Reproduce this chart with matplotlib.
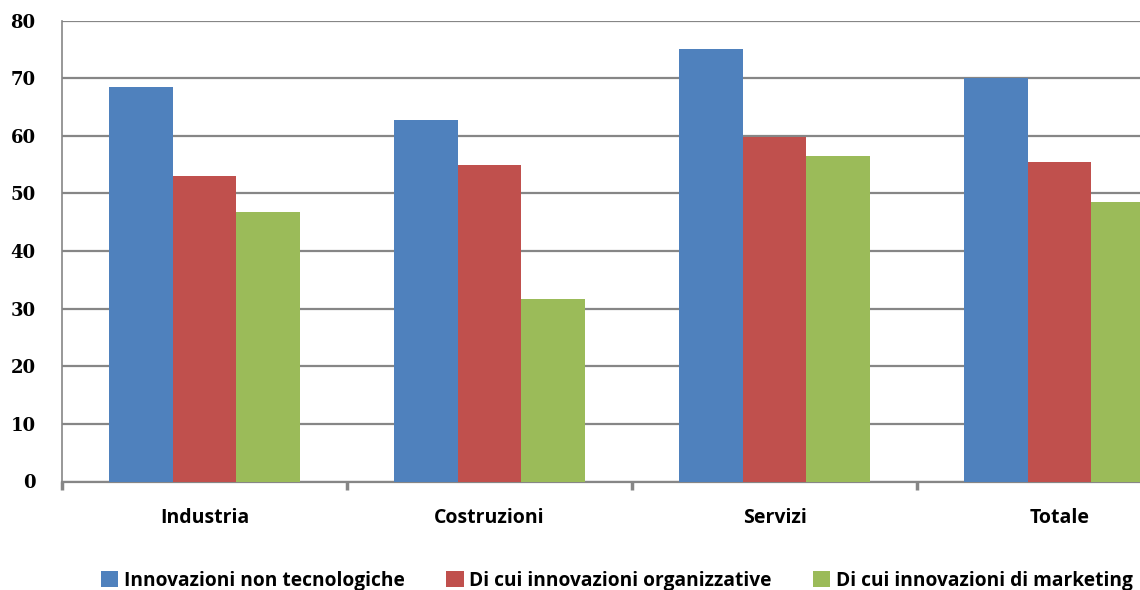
import matplotlib
matplotlib.use("Agg")
import matplotlib.pyplot as plt
import numpy as np

# Innovation shares (%) by sector
categories = ["Industria", "Costruzioni", "Servizi", "Totale"]
series_names = [
    "Innovazioni non tecnologiche",
    "Di cui innovazioni organizzative",
    "Di cui innovazioni di marketing",
]
non_tecnologiche = [68.4, 62.8, 75.1, 70.1]
organizzative = [53.1, 55.0, 59.7, 55.4]
marketing = [46.8, 31.6, 56.5, 48.5]
y_ticks = [0, 10, 20, 30, 40, 50, 60, 70, 80]

colors = ["#4F81BD", "#C0504D", "#9BBB59"]
grid_color = "#868686"
label_font = {"family": "Open Sans", "weight": "bold"}

fig = plt.figure(figsize=(11.4, 5.9), dpi=100)
# axes runs past the right edge of the figure, last group is partly cut
ax = fig.add_axes([62 / 1140, 1 - 481.5 / 590, 1140 / 1140, 461 / 590])

x = np.arange(len(categories))
width = 0.223
for i, (vals, name) in enumerate(zip([non_tecnologiche, organizzative, marketing], series_names)):
    ax.bar(x + (i - 1) * width, vals, width, color=colors[i], label=name, zorder=3)

ax.set_xlim(-0.5, len(categories) - 0.5)
ax.set_ylim(0, 80)
ax.set_yticks(y_ticks)
ax.set_yticklabels([str(v) for v in y_ticks], fontfamily="DejaVu Serif",
                   fontweight="bold", fontsize=13)
ax.tick_params(axis="y", length=0, pad=19)

ax.yaxis.grid(True, color=grid_color, linewidth=1.6, zorder=0)
ax.set_axisbelow(True)

# boundary ticks between groups, labels centred under each group
ax.set_xticks(np.arange(-0.5, len(categories), 1.0))
ax.set_xticklabels([])
ax.tick_params(axis="x", length=6, width=2.5, color=grid_color, direction="out")
ax.set_xticks(x, minor=True)
ax.set_xticklabels(categories, minor=True, fontsize=14, **label_font)
ax.tick_params(axis="x", which="minor", length=0, pad=19)

for side in ["top", "right"]:
    ax.spines[side].set_visible(False)
ax.spines["left"].set_color(grid_color)
ax.spines["left"].set_linewidth(1.2)
ax.spines["bottom"].set_color(grid_color)
ax.spines["bottom"].set_linewidth(1.6)

fig.legend(loc="center left", bbox_to_anchor=(84 / 1140, 1 - 581 / 590),
           ncol=3, frameon=False, handlelength=0.9, handleheight=0.9,
           handletextpad=0.3, columnspacing=2.15,
           prop={**label_font, "size": 13.8})

fig.savefig("out.png", dpi=100)
